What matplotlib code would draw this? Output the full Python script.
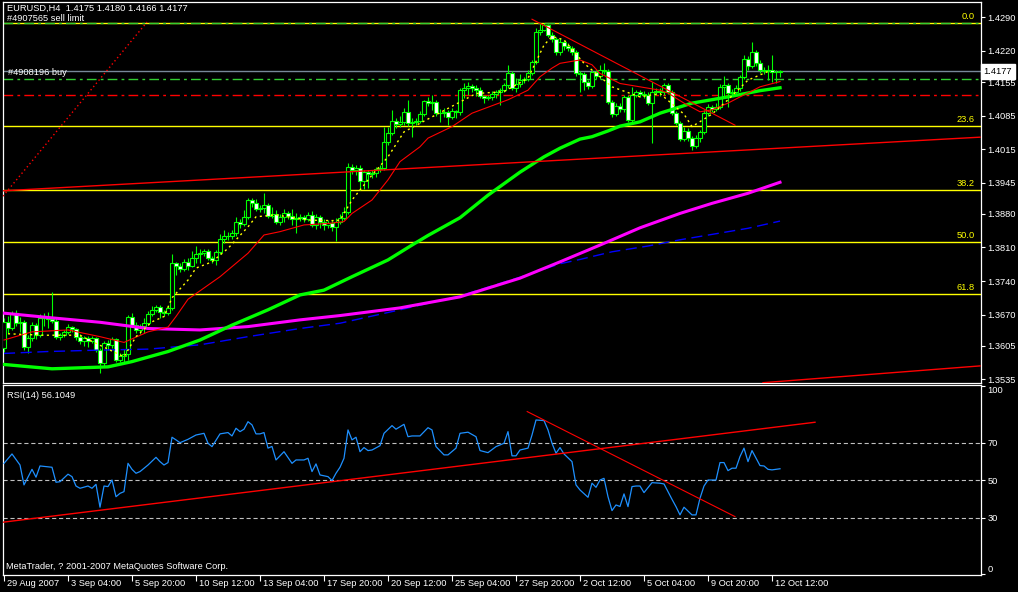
import numpy as np
import matplotlib
matplotlib.use("Agg")
import matplotlib.pyplot as plt
import matplotlib.transforms as mtransforms

plt.rcParams['font.family'] = ['Liberation Sans', 'DejaVu Sans']
plt.rcParams['font.size'] = 6.7
plt.rcParams['lines.scale_dashes'] = False

# EURUSD H4 candles, bar 0 = 29 Aug 2007
first_open = 1.3600
close = [1.3654, 1.3642, 1.3673, 1.3652, 1.3654, 1.3602, 1.3621, 1.3648, 1.3627, 1.3663,
         1.3665, 1.3661, 1.3657, 1.3623, 1.3627, 1.3634, 1.3644, 1.3640, 1.3623, 1.3615,
         1.3621, 1.3615, 1.3621, 1.3596, 1.3569, 1.3611, 1.3607, 1.3619, 1.3575, 1.3584,
         1.3588, 1.3665, 1.3648, 1.3638, 1.3646, 1.3652, 1.3671, 1.3680, 1.3686, 1.3675,
         1.3673, 1.3684, 1.3778, 1.3771, 1.3765, 1.3780, 1.3771, 1.3788, 1.3796, 1.3799,
         1.3803, 1.3788, 1.3784, 1.3801, 1.3828, 1.3834, 1.3834, 1.3840, 1.3863, 1.3859,
         1.3874, 1.3909, 1.3903, 1.3890, 1.3892, 1.3899, 1.3876, 1.3880, 1.3863, 1.3874,
         1.3882, 1.3876, 1.3869, 1.3872, 1.3874, 1.3869, 1.3878, 1.3857, 1.3874, 1.3863,
         1.3857, 1.3861, 1.3853, 1.3863, 1.3872, 1.3884, 1.3978, 1.3972, 1.3976, 1.3949,
         1.3967, 1.3963, 1.3965, 1.3974, 1.3976, 1.4030, 1.4049, 1.4074, 1.4067, 1.4072,
         1.4092, 1.4070, 1.4072, 1.4074, 1.4088, 1.4115, 1.4111, 1.4113, 1.4090, 1.4090,
         1.4092, 1.4082, 1.4095, 1.4092, 1.4138, 1.4143, 1.4147, 1.4143, 1.4138, 1.4126,
         1.4122, 1.4124, 1.4130, 1.4134, 1.4138, 1.4149, 1.4174, 1.4143, 1.4151, 1.4159,
         1.4161, 1.4174, 1.4197, 1.4259, 1.4264, 1.4274, 1.4253, 1.4245, 1.4218, 1.4239,
         1.4230, 1.4226, 1.4218, 1.4174, 1.4172, 1.4155, 1.4147, 1.4176, 1.4168, 1.4180,
         1.4178, 1.4113, 1.4088, 1.4105, 1.4099, 1.4124, 1.4076, 1.4128, 1.4134, 1.4130,
         1.4128, 1.4111, 1.4134, 1.4136, 1.4134, 1.4149, 1.4134, 1.4090, 1.4070, 1.4036,
         1.4053, 1.4038, 1.4022, 1.4038, 1.4051, 1.4090, 1.4103, 1.4099, 1.4103, 1.4145,
         1.4149, 1.4132, 1.4134, 1.4143, 1.4166, 1.4203, 1.4189, 1.4218, 1.4195, 1.4180,
         1.4178, 1.4180, 1.4176, 1.4176, 1.4177]
high = [1.3663, 1.3667, 1.3678, 1.3680, 1.3665, 1.3659, 1.3627, 1.3654, 1.3652, 1.3671,
        1.3673, 1.3675, 1.3717, 1.3663, 1.3632, 1.3638, 1.3650, 1.3646, 1.3642, 1.3630,
        1.3625, 1.3625, 1.3625, 1.3623, 1.3600, 1.3615, 1.3617, 1.3623, 1.3621, 1.3590,
        1.3598, 1.3669, 1.3673, 1.3654, 1.3650, 1.3663, 1.3678, 1.3688, 1.3690, 1.3690,
        1.3680, 1.3690, 1.3796, 1.3780, 1.3778, 1.3786, 1.3788, 1.3803, 1.3813, 1.3807,
        1.3807, 1.3807, 1.3792, 1.3805, 1.3838, 1.3846, 1.3842, 1.3846, 1.3874, 1.3869,
        1.3888, 1.3913, 1.3913, 1.3911, 1.3899, 1.3924, 1.3903, 1.3894, 1.3888, 1.3880,
        1.3890, 1.3886, 1.3890, 1.3882, 1.3880, 1.3878, 1.3884, 1.3886, 1.3880, 1.3878,
        1.3869, 1.3867, 1.3867, 1.3872, 1.3880, 1.3894, 1.3986, 1.3984, 1.3982, 1.3982,
        1.3972, 1.3972, 1.3972, 1.3978, 1.3982, 1.4061, 1.4061, 1.4097, 1.4080, 1.4084,
        1.4101, 1.4118, 1.4080, 1.4080, 1.4095, 1.4118, 1.4124, 1.4128, 1.4118, 1.4099,
        1.4101, 1.4097, 1.4101, 1.4097, 1.4143, 1.4153, 1.4155, 1.4151, 1.4149, 1.4145,
        1.4128, 1.4128, 1.4136, 1.4138, 1.4143, 1.4153, 1.4191, 1.4178, 1.4163, 1.4172,
        1.4166, 1.4180, 1.4201, 1.4268, 1.4278, 1.4279, 1.4276, 1.4259, 1.4249, 1.4247,
        1.4243, 1.4236, 1.4230, 1.4222, 1.4178, 1.4176, 1.4159, 1.4180, 1.4180, 1.4191,
        1.4195, 1.4182, 1.4118, 1.4111, 1.4111, 1.4128, 1.4128, 1.4145, 1.4138, 1.4138,
        1.4136, 1.4134, 1.4155, 1.4143, 1.4143, 1.4153, 1.4153, 1.4138, 1.4095, 1.4074,
        1.4061, 1.4059, 1.4042, 1.4045, 1.4055, 1.4097, 1.4109, 1.4107, 1.4111, 1.4151,
        1.4168, 1.4153, 1.4140, 1.4149, 1.4170, 1.4211, 1.4209, 1.4238, 1.4222, 1.4201,
        1.4186, 1.4191, 1.4211, 1.4180, 1.4180]
low = [1.3592, 1.3632, 1.3638, 1.3646, 1.3634, 1.3596, 1.3590, 1.3615, 1.3619, 1.3623,
       1.3646, 1.3642, 1.3652, 1.3619, 1.3617, 1.3623, 1.3630, 1.3634, 1.3617, 1.3609,
       1.3605, 1.3602, 1.3611, 1.3592, 1.3548, 1.3563, 1.3596, 1.3600, 1.3571, 1.3571,
       1.3569, 1.3575, 1.3644, 1.3632, 1.3630, 1.3632, 1.3648, 1.3667, 1.3675, 1.3663,
       1.3667, 1.3669, 1.3680, 1.3753, 1.3759, 1.3761, 1.3763, 1.3769, 1.3778, 1.3778,
       1.3792, 1.3784, 1.3778, 1.3773, 1.3796, 1.3819, 1.3826, 1.3828, 1.3834, 1.3851,
       1.3855, 1.3869, 1.3894, 1.3886, 1.3884, 1.3882, 1.3872, 1.3872, 1.3859, 1.3857,
       1.3863, 1.3869, 1.3857, 1.3840, 1.3865, 1.3863, 1.3865, 1.3853, 1.3849, 1.3851,
       1.3846, 1.3851, 1.3844, 1.3824, 1.3859, 1.3867, 1.3880, 1.3963, 1.3961, 1.3930,
       1.3932, 1.3934, 1.3955, 1.3957, 1.3967, 1.3972, 1.4024, 1.4045, 1.4059, 1.4061,
       1.4065, 1.4063, 1.4040, 1.4065, 1.4070, 1.4084, 1.4105, 1.4097, 1.4084, 1.4072,
       1.4082, 1.4065, 1.4078, 1.4080, 1.4086, 1.4122, 1.4128, 1.4134, 1.4126, 1.4122,
       1.4111, 1.4118, 1.4118, 1.4122, 1.4107, 1.4134, 1.4143, 1.4138, 1.4134, 1.4145,
       1.4153, 1.4157, 1.4170, 1.4193, 1.4253, 1.4261, 1.4249, 1.4239, 1.4211, 1.4211,
       1.4222, 1.4220, 1.4211, 1.4168, 1.4134, 1.4138, 1.4140, 1.4143, 1.4161, 1.4161,
       1.4172, 1.4109, 1.4082, 1.4084, 1.4092, 1.4092, 1.4072, 1.4072, 1.4124, 1.4124,
       1.4122, 1.4107, 1.4028, 1.4128, 1.4126, 1.4128, 1.4130, 1.4086, 1.4065, 1.4032,
       1.4032, 1.4032, 1.4013, 1.4017, 1.4030, 1.4047, 1.4084, 1.4092, 1.4095, 1.4099,
       1.4126, 1.4103, 1.4126, 1.4130, 1.4136, 1.4161, 1.4180, 1.4184, 1.4189, 1.4174,
       1.4172, 1.4159, 1.4155, 1.4153, 1.4166]

# moving averages (bar index, price)
green_bar = [0, 12, 26, 32, 41, 49, 57, 66, 74, 80, 87, 96, 102, 106, 114, 121, 129, 135,
             139, 144, 147, 151, 154, 159, 164, 172, 181, 189, 194]
green_val = [1.3566, 1.3557, 1.3561, 1.3572, 1.3593, 1.3617, 1.3648, 1.3680, 1.3711, 1.3721,
             1.3749, 1.3784, 1.3815, 1.3835, 1.3872, 1.3919, 1.3967, 1.3999, 1.4017, 1.4036,
             1.4041, 1.4053, 1.4063, 1.4072, 1.4090, 1.4111, 1.4124, 1.4137, 1.4143]
mag_bar = [0, 11, 24, 36, 49, 61, 74, 84, 99, 114, 129, 139, 149, 159, 169, 177, 186, 194]
mag_val = [1.3673, 1.3664, 1.3654, 1.3641, 1.3638, 1.3645, 1.3659, 1.3668, 1.3684, 1.3707,
           1.3746, 1.3780, 1.3815, 1.3851, 1.3881, 1.3902, 1.3923, 1.3946]
blue_bar = [0, 11, 24, 36, 49, 61, 74, 84, 99, 114, 129, 139, 144, 152, 161, 169, 174, 186, 194]
blue_val = [1.3589, 1.3593, 1.3596, 1.3598, 1.3607, 1.3624, 1.3641, 1.3652, 1.3680, 1.3709,
            1.3748, 1.3776, 1.3785, 1.3801, 1.3813, 1.3826, 1.3833, 1.3850, 1.3865]
red_bar = [0, 7, 16, 24, 30, 36, 41, 43, 46, 54, 61, 65, 69, 75, 81, 85, 87, 92, 96, 99,
           104, 106, 112, 117, 126, 131, 134, 137, 139, 144, 147, 149, 154, 159, 164, 166,
           170, 174, 177, 181, 184, 189, 194]
red_val = [1.3617, 1.3634, 1.3638, 1.3624, 1.3612, 1.3634, 1.3644, 1.3666, 1.3702, 1.3749,
           1.3798, 1.3836, 1.3843, 1.3857, 1.3860, 1.3864, 1.3881, 1.3909, 1.3951, 1.3989,
           1.4020, 1.4038, 1.4062, 1.4090, 1.4118, 1.4138, 1.4166, 1.4184, 1.4194, 1.4201,
           1.4191, 1.4173, 1.4152, 1.4145, 1.4138, 1.4132, 1.4111, 1.4093, 1.4097, 1.4111,
           1.4124, 1.4145, 1.4156]
yel_bar = [1, 10, 19, 23, 30, 33, 37, 40, 42, 46, 48, 52, 56, 61, 63, 68, 76, 82, 84, 87,
           92, 96, 100, 104, 111, 118, 125, 131, 135, 137, 140, 145, 147, 152, 159, 164,
           170, 172, 177, 181, 186, 191]
yel_val = [1.3630, 1.3627, 1.3627, 1.3610, 1.3582, 1.3624, 1.3655, 1.3666, 1.3705, 1.3742,
           1.3767, 1.3780, 1.3808, 1.3853, 1.3874, 1.3878, 1.3867, 1.3866, 1.3867, 1.3909,
           1.3961, 1.3999, 1.4051, 1.4069, 1.4100, 1.4131, 1.4135, 1.4163, 1.4232, 1.4250,
           1.4243, 1.4194, 1.4180, 1.4145, 1.4124, 1.4131, 1.4088, 1.4062, 1.4088, 1.4118,
           1.4159, 1.4177]

# RSI(14)
rsi_bar = [0, 2, 4, 5, 7, 8, 9, 12, 13, 14, 16, 17, 18, 19, 21, 22, 23, 24, 25, 26,
           27, 28, 29, 30, 31, 32, 33, 34, 36, 38, 39, 40, 41, 42, 43, 44, 46, 48, 50, 51,
           52, 54, 56, 57, 58, 59, 60, 61, 62, 63, 64, 65, 66, 67, 68, 70, 72, 73, 75, 76,
           77, 78, 79, 81, 82, 83, 84, 85, 86, 87, 88, 89, 90, 91, 92, 94, 95, 97, 98, 100,
           101, 102, 104, 106, 107, 108, 110, 111, 113, 114, 116, 118, 119, 121, 123, 125, 126, 127, 128, 129,
           131, 132, 133, 135, 136, 137, 138, 139, 140, 142, 143, 144, 146, 147, 148, 149, 150, 151, 152, 153,
           154, 155, 156, 157, 158, 159, 160, 162, 164, 165, 167, 168, 169, 170, 172, 173, 174, 175, 176, 178,
           179, 180, 181, 182, 183, 184, 185, 186, 187, 189, 190, 191, 192, 194]
rsi_val = [59.0, 64.0, 58.1, 47.5, 55.8, 51.6, 57.6, 56.9, 48.9, 49.2, 53.2, 51.9, 46.9, 45.7, 46.9, 45.7, 47.8, 35.6, 46.9, 46.6,
           50.1, 41.2, 43.0, 43.9, 59.0, 55.8, 53.7, 54.6, 58.1, 62.2, 59.9, 58.1, 59.4, 72.9, 71.5, 70.0, 71.8, 74.1, 75.0, 69.7,
           67.9, 74.7, 75.4, 73.6, 77.7, 75.9, 77.2, 81.2, 79.5, 74.7, 74.7, 75.4, 67.1, 68.0, 60.8, 65.2, 59.0, 60.8, 60.8, 61.7,
           54.6, 58.7, 52.8, 51.9, 49.8, 53.7, 56.9, 61.7, 76.8, 71.5, 72.9, 65.2, 67.4, 65.8, 66.1, 68.4, 75.0, 79.1, 77.2, 79.8,
           73.2, 73.6, 73.6, 78.0, 76.8, 67.9, 63.5, 63.5, 67.1, 75.0, 75.6, 73.2, 65.8, 64.7, 67.9, 69.7, 75.9, 63.0, 63.0, 66.1,
           67.1, 74.1, 82.1, 81.8, 76.8, 69.7, 64.4, 67.4, 64.0, 59.9, 47.5, 44.8, 40.9, 48.4, 46.2, 50.1, 51.0, 41.2, 33.8, 36.8,
           36.0, 42.7, 35.9, 46.6, 46.9, 46.9, 43.4, 48.7, 48.4, 48.0, 39.8, 35.9, 31.5, 35.6, 31.5, 31.5, 40.4, 46.9, 50.1, 50.1,
           59.4, 59.4, 55.1, 56.4, 56.4, 62.6, 67.1, 59.9, 65.8, 57.8, 57.6, 55.8, 55.5, 56.1]

# drawn objects
fib_high, fib_low = 1.4279, 1.3363
fib_levels = [0.0, 23.6, 38.2, 50.0, 61.8]
sell_limit = 1.4278
buy_price = 1.4161
stop_level = 1.4128
bid = 1.4177
trend_long = ([-0.5, 244.0], [1.3928, 1.4040])
trend_low = ([189.75, 244.0], [1.3528, 1.3563])
trend_down = ([132.0, 182.75], [1.4286, 1.4065])
trend_dotted = ([-0.25, 35.75], [1.3917, 1.4280])
rsi_up = ([-0.3, 202.75], [27.6, 80.9])
rsi_down = ([130.8, 182.75], [86.6, 30.6])

price_ticks = [1.4290, 1.4220, 1.4155, 1.4085, 1.4015, 1.3945, 1.3880, 1.3810, 1.3740,
               1.3670, 1.3605, 1.3535]
rsi_ticks = [0, 30, 50, 70, 100]
date_bars = [0, 16, 32, 48, 64, 80, 96, 112, 128, 144, 160, 176, 192]
date_labels = ['29 Aug 2007', '3 Sep 04:00', '5 Sep 20:00', '10 Sep 12:00', '13 Sep 04:00',
               '17 Sep 20:00', '20 Sep 12:00', '25 Sep 04:00', '27 Sep 20:00', '2 Oct 12:00',
               '5 Oct 04:00', '9 Oct 20:00', '12 Oct 12:00']

W, H = 1018, 592


def box(x0, y0, x1, y1):
    return [x0 / W, 1 - y1 / H, (x1 - x0) / W, (y1 - y0) / H]


fig = plt.figure(figsize=(W / 100, H / 100), dpi=100, facecolor='black')
ax = fig.add_axes(box(2.7, 2, 980.7, 382.5))
ax2 = fig.add_axes(box(2.7, 385.3, 980.7, 575.3))

for a in (ax, ax2):
    a.set_facecolor('black')
    a.set_xlim(-0.325, 244.175)
    for s in a.spines.values():
        s.set_color('white')
        s.set_linewidth(0.9)
    a.yaxis.tick_right()
    a.tick_params(axis='y', colors='white', length=3, width=0.8, pad=2, labelsize=6.7)

ax.set_ylim(1.35284, 1.43219)
ax2.set_ylim(-0.7, 100.6)

# candles
x = np.arange(len(close))
c = np.array(close)
o = np.r_[first_open, c[:-1]]
bull = c >= o
ax.vlines(x, low, high, color='#00ff00', lw=0.8, zorder=3)
ax.bar(x, c - o, bottom=o, width=0.8, color=np.where(bull, 'black', 'white'),
       edgecolor='#00ff00', linewidth=0.8, zorder=4)

# fibo + order lines
for lv in fib_levels:
    y = fib_high - lv / 100 * (fib_high - fib_low)
    ax.axhline(y, color='#ffff00', lw=1.0, zorder=1)
    ax.text(242.75, y, f'{lv:.1f}', color='#ffff00', ha='right', va='bottom',
            transform=mtransforms.offset_copy(ax.transData, fig=fig, y=2, units='dots'))
ax.axhline(sell_limit, color='#32cd32', lw=1.0, dashes=(7, 3, 2, 3), zorder=2)
ax.axhline(buy_price, color='#32cd32', lw=1.0, dashes=(7, 3, 2, 3), zorder=2)
ax.axhline(stop_level, color='#ff0000', lw=1.0, dashes=(7, 3, 2, 3), zorder=2)
ax.axhline(bid, color='#778899', lw=1.0, zorder=2)

# indicators
ax.plot(blue_bar, blue_val, color='#0000ff', lw=1.0, dashes=(8, 4), zorder=5)
ax.plot(mag_bar, mag_val, color='#ff00ff', lw=2.2, zorder=5)
ax.plot(green_bar, green_val, color='#00ff00', lw=2.4, zorder=5)
ax.plot(red_bar, red_val, color='#ff0000', lw=0.8, zorder=5)
ax.plot(yel_bar, yel_val, color='#ffff00', lw=1.0, dashes=(1.5, 2.5), zorder=5)

# trendlines
ax.plot(*trend_long, color='#ff0000', lw=1.0, zorder=6)
ax.plot(*trend_low, color='#ff0000', lw=1.0, zorder=6)
ax.plot(*trend_down, color='#ff0000', lw=0.8, zorder=6)
ax.plot(*trend_dotted, color='#ff0000', lw=1.0, dashes=(1, 2), zorder=6)

ax.set_yticks(price_ticks)
ax.set_yticklabels([f'{v:.4f}' for v in price_ticks])
ax.tick_params(axis='x', bottom=False, labelbottom=False)

ax.text(0.0041, 0.9829, 'EURUSD,H4  1.4175 1.4180 1.4166 1.4177', color='white',
        transform=ax.transAxes, ha='left', va='center')
ax.text(0.0041, 0.9453, '#4907565 sell limit', color='white',
        transform=ax.transAxes, ha='left', va='bottom')
ax.text(0.0057, 0.8016, '#4908196 buy', color='white',
        transform=ax.transAxes, ha='left', va='bottom')
ax.text(1.0 + 3 / 978, bid, f'{bid:.4f}', transform=ax.get_yaxis_transform(),
        ha='left', va='center', color='black', clip_on=False, zorder=10,
        bbox=dict(boxstyle='square,pad=0.3', fc='white', ec='white'))

# RSI panel
for lv in (30, 50, 70):
    ax2.axhline(lv, color='#c0c0c0', lw=0.8, dashes=(3, 2))
ax2.plot(rsi_bar, rsi_val, color='#1e90ff', lw=0.9, zorder=4)
ax2.plot(*rsi_up, color='#ff0000', lw=1.0, zorder=5)
ax2.plot(*rsi_down, color='#ff0000', lw=0.8, zorder=5)
ax2.set_yticks(rsi_ticks)
ax2.set_yticklabels([str(v) for v in rsi_ticks])
labs = ax2.get_yticklabels()
labs[0].set_va('bottom')
labs[-1].set_va('top')

ax2.set_xticks(date_bars)
ax2.tick_params(axis='x', colors='white', length=4, width=0.8, labelbottom=False)
trans = mtransforms.blended_transform_factory(ax2.transData, fig.transFigure)
for b, lab in zip(date_bars, date_labels):
    ax2.text(b + 0.7, 1 - 584 / H, lab, transform=trans, ha='left', va='center',
             color='white', clip_on=False)

ax2.text(0.004, 0.946, 'RSI(14) 56.1049', color='white', transform=ax2.transAxes,
         ha='left', va='center')
ax2.text(0.0034, 0.0453, 'MetaTrader, ? 2001-2007 MetaQuotes Software Corp.', color='white',
         transform=ax2.transAxes, ha='left', va='center')

fig.savefig('out.png', dpi=100, facecolor='black')
